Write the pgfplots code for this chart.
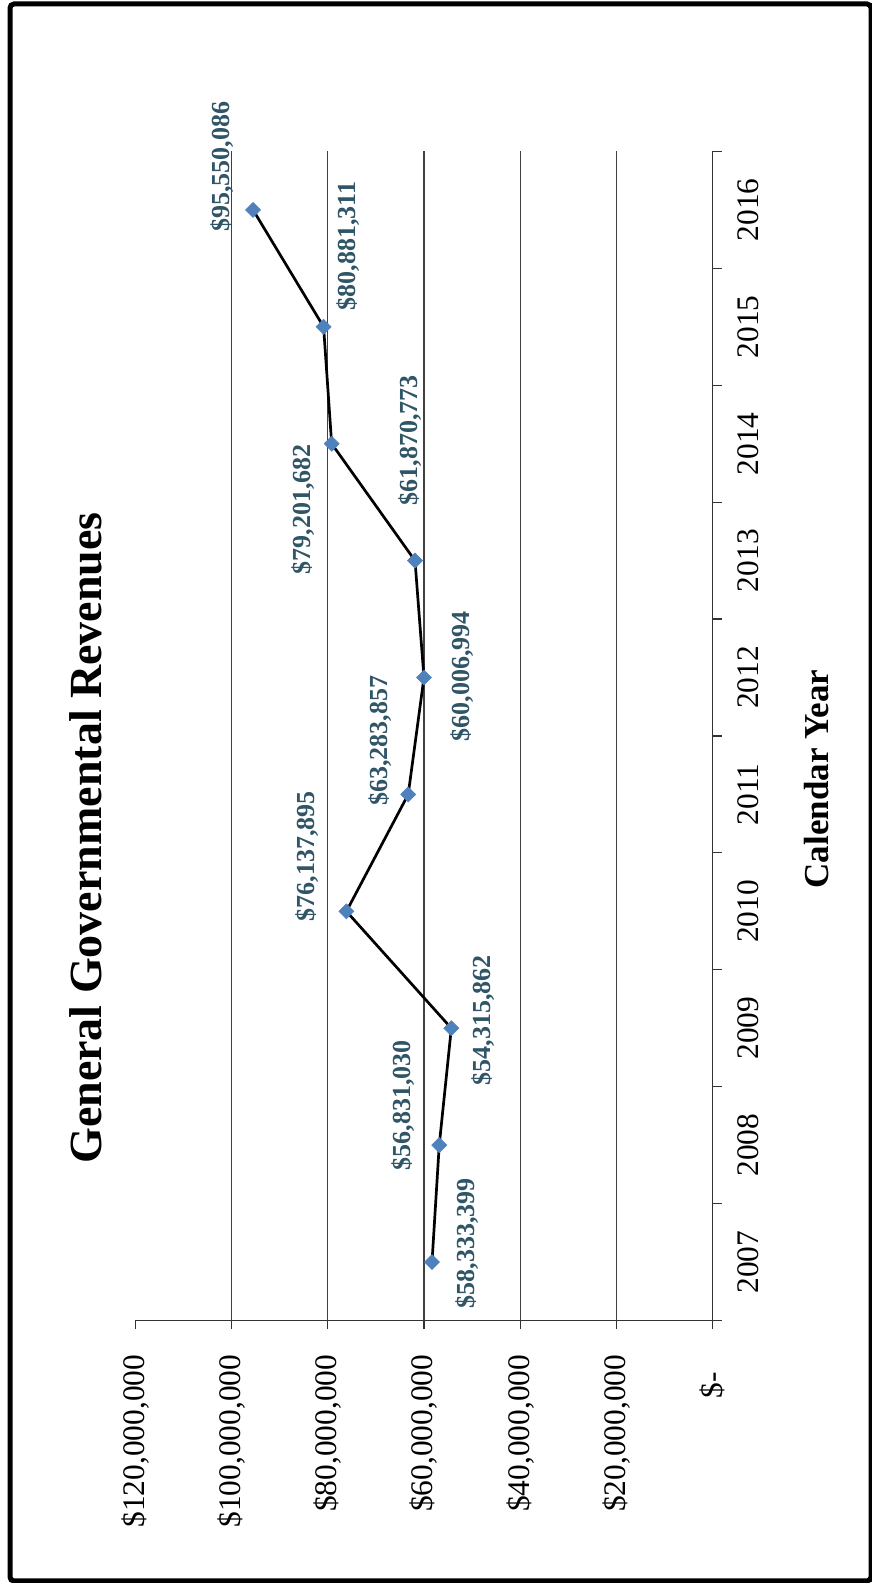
\documentclass[border=0pt]{standalone}
\usepackage{fontspec}
\setmainfont{Liberation Serif}
\usepackage{pgfplots}
\pgfplotsset{compat=1.18}
\definecolor{lblcol}{RGB}{47,85,103}
\definecolor{mkcol}{RGB}{79,129,189}
\pgfplotstableread{
year value
2007 58333399
2008 56831030
2009 54315862
2010 76137895
2011 63283857
2012 60006994
2013 61870773
2014 79201682
2015 80881311
2016 95550086
}\revdata
\begin{document}
\begin{tikzpicture}[x=1bp,y=1bp]
\begin{axis}[
  at={(67.75bp,131.25bp)}, anchor=south west,
  width=288.5bp, height=584.5bp, scale only axis,
  x dir=reverse,
  xmin=0, xmax=120000000,
  ymin=2006.5, ymax=2016.5,
  axis x line*=bottom, axis y line*=right,
  axis line style={black!80, line width=0.6bp},
  every tick/.style={black!80, line width=0.6bp},
  tick align=outside, major tick length=4.5bp,
  scaled x ticks=false,
  xtick={0,20000000,40000000,60000000,80000000,100000000,120000000},
  xticklabels={{\$-\hspace*{0.55em}},{\$20,000,000},{\$40,000,000},{\$60,000,000},{\$80,000,000},{\$100,000,000},{\$120,000,000}},
  xticklabel style={rotate=90, anchor=east, inner sep=0pt, font=\fontsize{15.7bp}{18bp}\selectfont},
  xticklabel shift=12.5bp,
  extra x ticks={20000000,40000000,60000000,80000000,100000000},
  extra x tick labels={},
  extra x tick style={grid=major, major tick length=0pt},
  grid style={black!75, line width=0.6bp},
  ytick={2006.5,2007.5,2008.5,2009.5,2010.5,2011.5,2012.5,2013.5,2014.5,2015.5,2016.5},
  y tick label as interval,
  yticklabels={2007,2008,2009,2010,2011,2012,2013,2014,2015,2016},
  yticklabel style={rotate=90, anchor=north, inner sep=0pt, font=\fontsize{15.7bp}{18bp}\selectfont},
  yticklabel shift=8bp,
  clip=false,
]
\addplot[black, line width=1.35bp, mark=square*, mark size=2.65bp,
  mark options={rotate=45, fill=mkcol, draw=mkcol, line width=0.3bp}]
  table[x=value, y=year] {\revdata};
\tikzset{lbl/.style={rotate=90, inner sep=0pt, text=lblcol, font=\fontsize{13bp}{15bp}\selectfont\bfseries}}
\node[lbl] at (axis cs:50960000,2007.16) {\$58,333,399};
\node[lbl] at (axis cs:64270000,2008.34) {\$56,831,030};
\node[lbl] at (axis cs:47630000,2009.07) {\$54,315,862};
\node[lbl] at (axis cs:84400000,2010.47) {\$76,137,895};
\node[lbl] at (axis cs:69050000,2011.46) {\$63,283,857};
\node[lbl] at (axis cs:52000000,2012.01) {\$60,006,994};
\node[lbl] at (axis cs:62800000,2014.03) {\$61,870,773};
\node[lbl] at (axis cs:85070000,2013.44) {\$79,201,682};
\node[lbl] at (axis cs:75700000,2015.69) {\$80,881,311};
\node[lbl] at (axis cs:101900000,2016.37) {\$95,550,086};
\end{axis}
\node[rotate=90, inner sep=0pt, font=\fontsize{23bp}{27bp}\selectfont\bfseries] at (43,372.5) {General Governmental Revenues};
\node[rotate=90, inner sep=0pt, font=\fontsize{17.5bp}{21bp}\selectfont\bfseries] at (408.25,402) {Calendar Year};
\draw[line width=2.5bp, rounded corners=2bp] (5,1) rectangle (435.5,789.5);
\pgfresetboundingbox
\useasboundingbox (0,0) rectangle (436,791.5);
\end{tikzpicture}
\end{document}
